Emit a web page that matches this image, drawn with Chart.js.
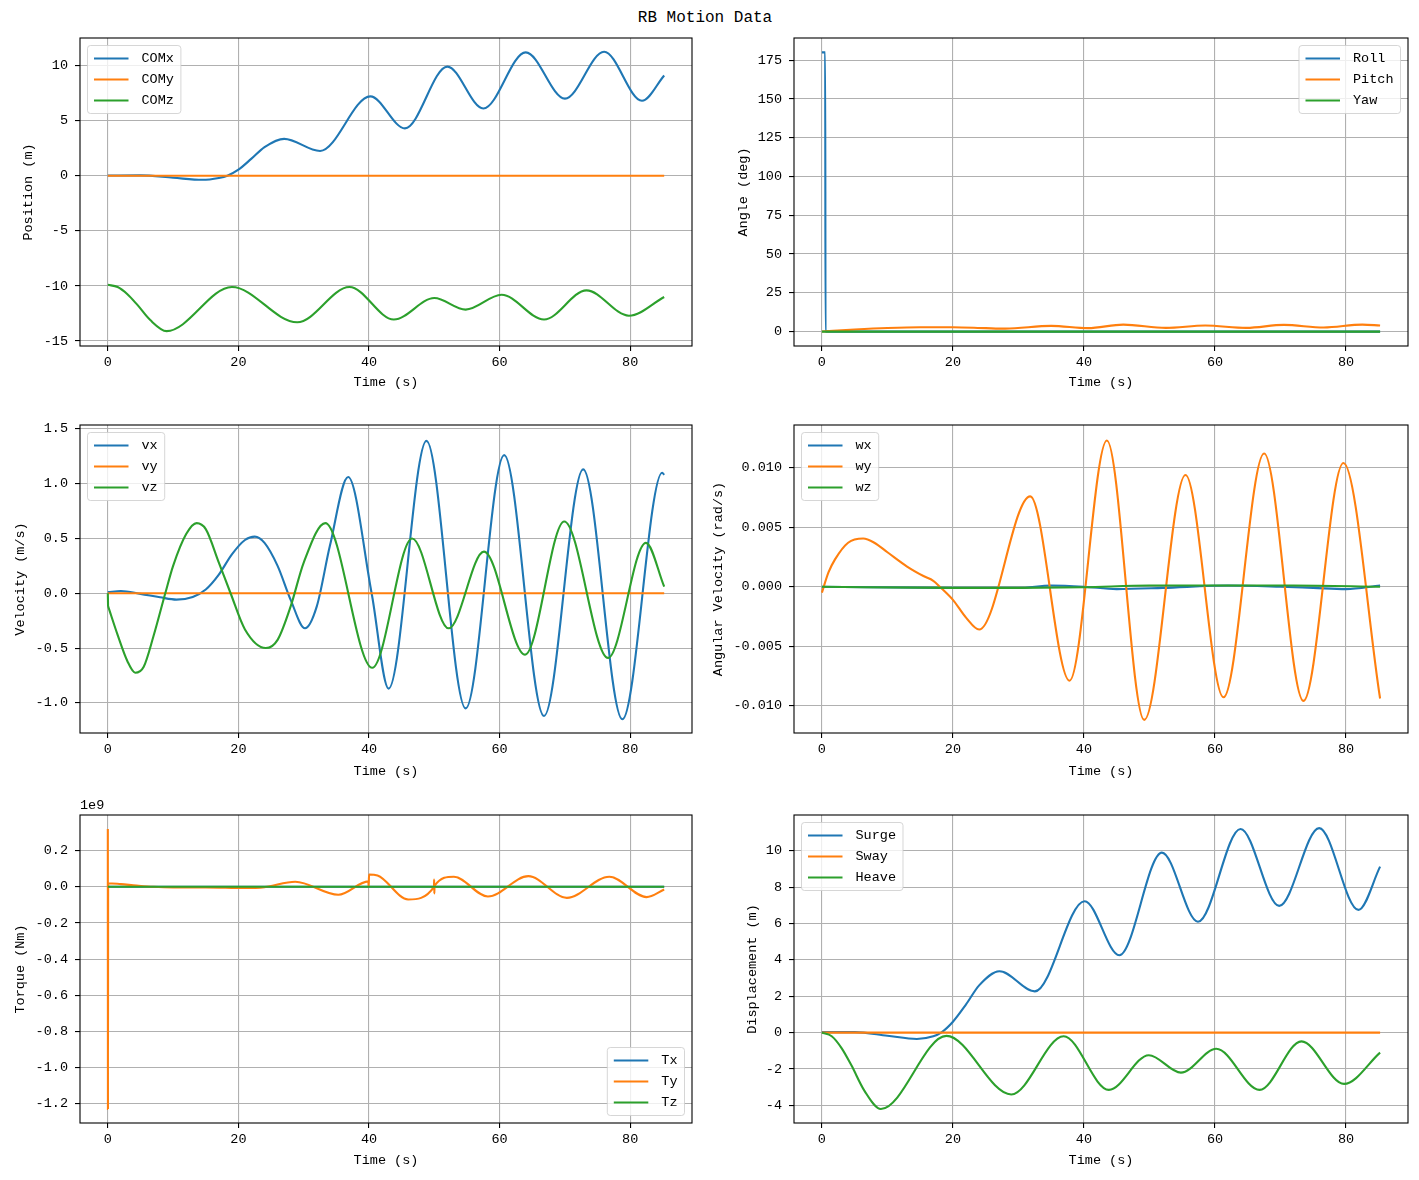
<!DOCTYPE html>
<html>
<head>
<meta charset="utf-8">
<script src="https://cdn.jsdelivr.net/npm/chart.js@4.4.1/dist/chart.umd.min.js"></script>
<style>
  body { margin: 0; background: #fff; }
  #fig { position: relative; width: 1419px; height: 1180px; background: #fff; }
  #title { position: absolute; left: 0; top: 8px; width: 1410px; text-align: center;
           font: 16px "Liberation Mono", monospace; line-height: 20px; color: #000; }
  .panel { position: absolute; }
</style>
</head>
<body>
<div id="fig">
  <div id="title">RB Motion Data</div>
  <div class="panel" style="left:0;top:28px;width:710px;height:372px"><canvas id="pos"></canvas></div>
  <div class="panel" style="left:710px;top:28px;width:709px;height:372px"><canvas id="ang"></canvas></div>
  <div class="panel" style="left:0;top:400px;width:710px;height:390px"><canvas id="vel"></canvas></div>
  <div class="panel" style="left:710px;top:400px;width:709px;height:390px"><canvas id="angvel"></canvas></div>
  <div class="panel" style="left:0;top:790px;width:710px;height:390px"><canvas id="torque"></canvas></div>
  <div class="panel" style="left:710px;top:790px;width:709px;height:390px"><canvas id="disp"></canvas></div>
</div>
<script>
// time in s
const tEnd = 85.2;

// position (m)
const comxT = [0, 5, 10, 14.5, 17, 18.3, 20, 22, 24, 27, 32.5, 40.2, 45.5, 52, 57.5, 64, 70, 76, 81.8, 85.2];
const comxV = [0.02, 0.03, -0.18, -0.37, -0.2, 0, 0.55, 1.55, 2.6, 3.35, 2.25, 7.2, 4.3, 9.9, 6.1, 11.2, 7.0, 11.25, 6.8, 9.1];
const comyT = [0, tEnd];
const comyV = [0, 0];
const comzT = [0, 1.5, 3, 4.5, 6.5, 9, 19, 29, 37, 43.8, 50, 54.8, 60.3, 66.8, 73.3, 79.8, 85.2];
const comzV = [-9.9, -10.1, -10.75, -11.7, -13.1, -14.1, -10.1, -13.3, -10.1, -13.05, -11.1, -12.15, -10.8, -13.05, -10.4, -12.7, -11.0];

// angles (deg)
const rollT = [0, 0.5, 0.55, tEnd];
const rollV = [180, 180, 0, 0];
const pitchT = [0, 5, 10, 15, 20, 25, 28, 35, 40.6, 46, 52.5, 58.5, 64.8, 70.5, 76.6, 82.5, 85.2];
const pitchV = [0, 1.3, 2.3, 2.8, 2.8, 2.2, 1.9, 3.7, 2.2, 4.5, 2.4, 3.9, 2.4, 4.3, 2.6, 4.5, 3.9];
const yawT = [0, tEnd];
const yawV = [0, 0];

// velocity (m/s)
const vxT = [0, 2, 5, 8, 10.5, 13, 15, 17, 19, 21, 22.5, 24, 26, 28, 30.2, 32, 34, 36.8, 40.4, 43, 48.8, 54.8, 60.7, 66.8, 72.8, 78.8, 84.9, 85.2];
const vxV = [0.01, 0.02, -0.006, -0.037, -0.058, -0.034, 0.034, 0.17, 0.355, 0.486, 0.517, 0.46, 0.25, -0.06, -0.32, -0.12, 0.43, 1.06, 0, -0.87, 1.39, -1.05, 1.26, -1.12, 1.13, -1.15, 1.1, 1.08];
const vyT = [0, tEnd];
const vyV = [0, 0];
// the first jump at t=0 is kept apart (null) so it does not bend the curve after it
const vzT = [0, 0.04, 0.045, 0.05, 1.5, 3, 4.2, 5.5, 7, 8.8, 10, 12, 13.6, 15, 17, 18.8, 21, 24.2, 26, 28, 30, 33.3, 40.5, 46.6, 52.2, 57.6, 63.9, 69.9, 76.6, 82.4, 85.2];
const vzV = [0, -0.12, null, -0.12, -0.38, -0.62, -0.725, -0.67, -0.39, 0, 0.25, 0.54, 0.64, 0.585, 0.28, 0, -0.33, -0.5, -0.425, -0.12, 0.28, 0.64, -0.68, 0.5, -0.32, 0.38, -0.56, 0.655, -0.59, 0.46, 0.06];

// angular velocity (rad/s)
const wxT = [0, 20, 30, 35, 40, 45, 52, 62, 70, 75, 80, 85.2];
const wxV = [0, -0.0001, -0.0001, 0.0001, 0, -0.0002, -0.0001, 0.0001, 0, -0.0001, -0.0002, 0.0001];
const wyT = [0, 1, 2, 4, 6.3, 8, 10, 13, 15.5, 17, 18, 20, 22, 24, 31.8, 37.8, 43.5, 49.2, 55.5, 61.3, 67.5, 73.5, 79.6, 85.2];
const wyV = [-0.0005, 0.0012, 0.0023, 0.0037, 0.00405, 0.0037, 0.0029, 0.0017, 0.0009, 0.0005, 0, -0.0011, -0.0026, -0.0036, 0.0076, -0.0079, 0.0123, -0.0112, 0.0094, -0.0093, 0.0112, -0.0096, 0.0104, -0.0094];
const wzT = [0, 20, 30, 40, 50, 60, 72, 85.2];
const wzV = [0, -0.0001, -0.0001, -0.00005, 0.0001, 0.0001, 0.0001, 0];

// torque (x 1e9 Nm)
const txT = [0, tEnd];
const txV = [0, 0];
const tyT = [0, 0.02, 0.05, 2, 4.4, 7, 10, 15, 21, 24, 28.7, 35.3, 39.9, 39.95, 40.0, 41.3, 46, 49.95, 49.97, 50.0, 50.03, 53, 58.2, 64.4, 70.3, 76.8, 82.5, 85.2];
const tyV = [0.32, -1.23, 0.02, 0.015, 0.007, 0, -0.003, -0.003, -0.007, -0.002, 0.028, -0.044, 0.03, 0.0, 0.068, 0.063, -0.07, 0.0, 0.04, -0.037, 0.005, 0.056, -0.054, 0.059, -0.061, 0.056, -0.057, -0.015];
const tzT = [0, tEnd];
const tzV = [0, 0];

// displacement (m)
const surgeT = [0, 5, 10, 14.5, 17, 18.2, 20, 22, 24, 27.1, 32.5, 40.1, 45.4, 51.9, 57.4, 63.9, 69.8, 75.9, 81.9, 85.2];
const surgeV = [0.03, 0.03, -0.17, -0.35, -0.2, 0, 0.6, 1.55, 2.6, 3.38, 2.27, 7.23, 4.26, 9.9, 6.1, 11.2, 6.97, 11.25, 6.75, 9.13];
const swayT = [0, tEnd];
const swayV = [0, 0];
const heaveT = [0, 1.5, 3, 4.5, 6.5, 9, 19, 28.9, 36.9, 43.8, 49.9, 54.8, 60.2, 66.8, 73.2, 79.7, 85.2];
const heaveV = [0, -0.2, -0.85, -1.8, -3.2, -4.2, -0.18, -3.4, -0.2, -3.15, -1.24, -2.2, -0.89, -3.15, -0.48, -2.82, -1.1];

const BLUE = '#1f77b4', ORANGE = '#ff7f0e', GREEN = '#2ca02c';
const FONT = '"Liberation Mono", "DejaVu Sans Mono", monospace';
const FS = 13.5;
const X_MIN = -4.26, X_MAX = 89.46;

Chart.defaults.font.family = FONT;
Chart.defaults.font.size = FS;
Chart.defaults.color = '#000';

function pts(t, v) {
  return t.map((x, i) => ({ x: x, y: v[i] }));
}

function line(label, t, v, color, order) {
  return {
    label: label, data: pts(t, v), borderColor: color, backgroundColor: color,
    borderWidth: 2.1, pointRadius: 0, fill: false, cubicInterpolationMode: 'monotone', order: order
  };
}

function fmt(v, dec) {
  if (Math.abs(v) < 1e-12) v = 0;
  return v.toFixed(dec);
}

const gridOpts = { color: '#b0b0b0', lineWidth: 1.1, tickColor: '#000', tickLength: 5, tickWidth: 1.1 };

function xScale(height, titleBottom) {
  return {
    type: 'linear', min: X_MIN, max: X_MAX,
    ticks: { stepSize: 20, includeBounds: false, maxRotation: 0, padding: 3, callback: v => fmt(v, 0) },
    grid: gridOpts,
    border: { display: false },
    title: { display: true, text: 'Time (s)', padding: { top: 0, bottom: titleBottom } },
    afterFit(s) { s.height = height; s.paddingLeft = 0; s.paddingRight = 0; }
  };
}

function yScale(title, min, max, step, dec, width, titleTop) {
  return {
    type: 'linear', min: min, max: max,
    ticks: { stepSize: step, includeBounds: false, padding: 7, callback: v => fmt(v, dec) },
    grid: gridOpts,
    border: { display: false },
    title: { display: true, text: title, padding: { top: titleTop, bottom: 0 } },
    afterFit(s) { s.width = width; s.paddingTop = 0; s.paddingBottom = 0; }
  };
}

// box round the axes, matplotlib style legend and the offset text
const framePlugin = {
  id: 'frame',
  afterDraw(chart, args, opts) {
    const ctx = chart.ctx, a = chart.chartArea;
    ctx.save();
    ctx.strokeStyle = '#000';
    ctx.lineWidth = 1.1;
    ctx.strokeRect(a.left, a.top, a.right - a.left, a.bottom - a.top);

    ctx.font = FS + 'px ' + FONT;
    ctx.fillStyle = '#000';
    ctx.textBaseline = 'middle';
    ctx.textAlign = 'left';
    if (opts.offsetText) ctx.fillText(opts.offsetText, a.left, a.top - 10);

    const sets = chart.data.datasets;
    let tw = 0;
    sets.forEach(d => { tw = Math.max(tw, ctx.measureText(d.label).width); });
    const w = 54 + tw + 7, h = 68;
    const x = opts.legend === 'ul' ? a.left + 7.5 : a.right - 7.5 - w;
    const y = opts.legend === 'lr' ? a.bottom - 7.5 - h : a.top + 7.5;
    ctx.beginPath();
    if (ctx.roundRect) ctx.roundRect(x, y, w, h, 3); else ctx.rect(x, y, w, h);
    ctx.globalAlpha = 0.8;
    ctx.fillStyle = '#fff';
    ctx.fill();
    ctx.strokeStyle = '#cccccc';
    ctx.lineWidth = 1;
    ctx.stroke();
    ctx.globalAlpha = 1;
    sets.forEach((d, i) => {
      const cy = y + 13 + i * 21;
      ctx.beginPath();
      ctx.strokeStyle = d.borderColor;
      ctx.lineWidth = 2.1;
      ctx.moveTo(x + 6.5, cy);
      ctx.lineTo(x + 41, cy);
      ctx.stroke();
      ctx.fillStyle = '#000';
      ctx.fillText(d.label, x + 54, cy);
    });
    ctx.restore();
  }
};

function makeChart(id, datasets, opt) {
  return new Chart(document.getElementById(id), {
    type: 'line',
    data: { datasets: datasets },
    plugins: [framePlugin],
    options: {
      animation: false, responsive: true, maintainAspectRatio: false, events: [],
      layout: { padding: { top: opt.top, right: opt.right, left: 0, bottom: 0 } },
      plugins: {
        legend: { display: false }, tooltip: { enabled: false },
        frame: { legend: opt.legend, offsetText: opt.offsetText || null }
      },
      scales: { x: opt.x, y: opt.y }
    }
  });
}

makeChart('pos', [
  line('COMx', comxT, comxV, BLUE, 3),
  line('COMy', comyT, comyV, ORANGE, 2),
  line('COMz', comzT, comzV, GREEN, 1)
], { top: 10, right: 18, legend: 'ul',
     x: xScale(54, 9), y: yScale('Position (m)', -15.45, 12.5, 5, 0, 80, 20) });

makeChart('ang', [
  line('Roll', rollT, rollV, BLUE, 3),
  line('Pitch', pitchT, pitchV, ORANGE, 2),
  line('Yaw', yawT, yawV, GREEN, 1)
], { top: 10, right: 11, legend: 'ur',
     x: xScale(54, 9), y: yScale('Angle (deg)', -9.3, 189.3, 25, 0, 84, 25) });

makeChart('vel', [
  line('vx', vxT, vxV, BLUE, 3),
  line('vy', vyT, vyV, ORANGE, 2),
  line('vz', vzT, vzV, GREEN, 1)
], { top: 25, right: 18, legend: 'ul',
     x: xScale(57, 10), y: yScale('Velocity (m/s)', -1.275, 1.535, 0.5, 1, 80, 12) });

makeChart('angvel', [
  line('wx', wxT, wxV, BLUE, 3),
  line('wy', wyT, wyV, ORANGE, 2),
  line('wz', wzT, wzV, GREEN, 1)
], { top: 25, right: 11, legend: 'ul',
     x: xScale(57, 10), y: yScale('Angular Velocity (rad/s)', -0.0123, 0.0136, 0.005, 3, 84, 0.5) });

makeChart('torque', [
  line('Tx', txT, txV, BLUE, 3),
  line('Ty', tyT, tyV, ORANGE, 2),
  line('Tz', tzT, tzV, GREEN, 1)
], { top: 25, right: 18, legend: 'lr', offsetText: '1e9',
     x: xScale(57, 11), y: yScale('Torque (Nm)', -1.3075, 0.3975, 0.2, 1, 80, 12) });

makeChart('disp', [
  line('Surge', surgeT, surgeV, BLUE, 3),
  line('Sway', swayT, swayV, ORANGE, 2),
  line('Heave', heaveT, heaveV, GREEN, 1)
], { top: 25, right: 11, legend: 'ul',
     x: xScale(57, 11), y: yScale('Displacement (m)', -4.97, 11.97, 2, 0, 84, 34) });
</script>
</body>
</html>
